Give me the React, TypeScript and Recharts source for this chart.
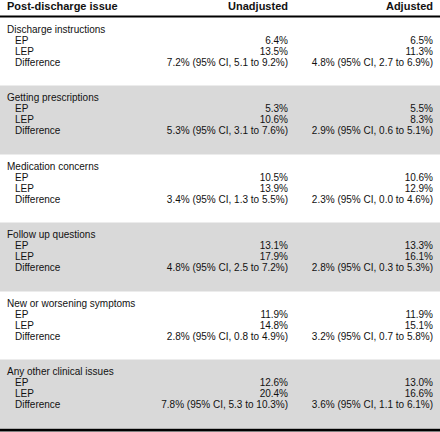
import React from "react";
import { BarChart, Bar, XAxis, YAxis, Cell, Customized } from "recharts";

const issues = [
  "Discharge instructions",
  "Getting prescriptions",
  "Medication concerns",
  "Follow up questions",
  "New or worsening symptoms",
  "Any other clinical issues",
];
const rowLabels = ["EP", "LEP", "Difference"];
const columnHeaders = ["Post-discharge issue", "Unadjusted", "Adjusted"];

const epUnadj = [6.4, 5.3, 10.5, 13.1, 11.9, 12.6];
const lepUnadj = [13.5, 10.6, 13.9, 17.9, 14.8, 20.4];
const diffUnadj = [7.2, 5.3, 3.4, 4.8, 2.8, 7.8];
const ciLowUnadj = [5.1, 3.1, 1.3, 2.5, 0.8, 5.3];
const ciHighUnadj = [9.2, 7.6, 5.5, 7.2, 4.9, 10.3];

const epAdj = [6.5, 5.5, 10.6, 13.3, 11.9, 13.0];
const lepAdj = [11.3, 8.3, 12.9, 16.1, 15.1, 16.6];
const diffAdj = [4.8, 2.9, 2.3, 2.8, 3.2, 3.6];
const ciLowAdj = [2.7, 0.6, 0.0, 0.3, 0.7, 1.1];
const ciHighAdj = [6.9, 5.1, 4.6, 5.3, 5.8, 6.1];

const pct = (v: number) => `${v.toFixed(1)}%`;
const diffText = (d: number, lo: number, hi: number) =>
  `${d.toFixed(1)}% (95% CI, ${lo.toFixed(1)} to ${hi.toFixed(1)}%)`;

const data = issues.map((name, i) => ({
  name,
  unadj: [pct(epUnadj[i]), pct(lepUnadj[i]), diffText(diffUnadj[i], ciLowUnadj[i], ciHighUnadj[i])],
  adj: [pct(epAdj[i]), pct(lepAdj[i]), diffText(diffAdj[i], ciLowAdj[i], ciHighAdj[i])],
}));

const W = 440;
const H = 432;
const FONT = "'Liberation Sans', Arial, sans-serif";
const TEXT = "#111";
const COL_LABEL = 7;
const COL_INDENT = 15;
const COL_UNADJ = 288;
const COL_ADJ = 433;
const LINE = 11;
const FIRST = 12;

const GroupShape = (props: any) => {
  const { x, y, width, height, payload, index } = props;
  const shaded = index % 2 === 1;
  const lineY = (k: number) => y + FIRST + k * LINE + 3.5;
  return (
    <g>
      <rect x={x} y={y} width={width} height={height} fill={shaded ? "#d9d9d9" : "none"} />
      <text x={x + COL_LABEL} y={lineY(0)} fontSize={10} fill={TEXT} fontFamily={FONT}>
        {payload.name}
      </text>
      {rowLabels.map((lab, k) => (
        <g key={lab}>
          <text x={x + COL_INDENT} y={lineY(k + 1)} fontSize={10} fill={TEXT} fontFamily={FONT}>
            {lab}
          </text>
          <text x={x + COL_UNADJ} y={lineY(k + 1)} fontSize={10} fill={TEXT} fontFamily={FONT} textAnchor="end">
            {payload.unadj[k]}
          </text>
          <text x={x + COL_ADJ} y={lineY(k + 1)} fontSize={10} fill={TEXT} fontFamily={FONT} textAnchor="end">
            {payload.adj[k]}
          </text>
        </g>
      ))}
    </g>
  );
};

const Frame = () => (
  <g>
    <text x={COL_LABEL} y={10} fontSize={11} fontWeight="bold" fill={TEXT} fontFamily={FONT}>
      {columnHeaders[0]}
    </text>
    <text x={COL_UNADJ} y={10} fontSize={11} fontWeight="bold" fill={TEXT} fontFamily={FONT} textAnchor="end">
      {columnHeaders[1]}
    </text>
    <text x={COL_ADJ} y={10} fontSize={11} fontWeight="bold" fill={TEXT} fontFamily={FONT} textAnchor="end">
      {columnHeaders[2]}
    </text>
    <rect x={0} y={15.5} width={W} height={2} fill="#000" />
    <rect x={0} y={428.5} width={W} height={3} fill="#000" />
  </g>
);

export default function App() {
  return (
    <div style={{ position: "absolute", left: 0, top: 0, width: W, height: H, background: "#fff" }}>
      <BarChart
        width={W}
        height={H}
        data={data}
        layout="vertical"
        margin={{ top: 17, right: 0, bottom: 4, left: 0 }}
        barCategoryGap={0}
      >
        <XAxis type="number" domain={[0, 1]} hide />
        <YAxis type="category" dataKey="name" hide width={0} />
        <Bar dataKey={() => 1} isAnimationActive={false} shape={GroupShape}>
          {data.map((d, i) => (
            <Cell key={d.name} fill={i % 2 ? "#d9d9d9" : "none"} />
          ))}
        </Bar>
        <Customized component={Frame} />
      </BarChart>
    </div>
  );
}
